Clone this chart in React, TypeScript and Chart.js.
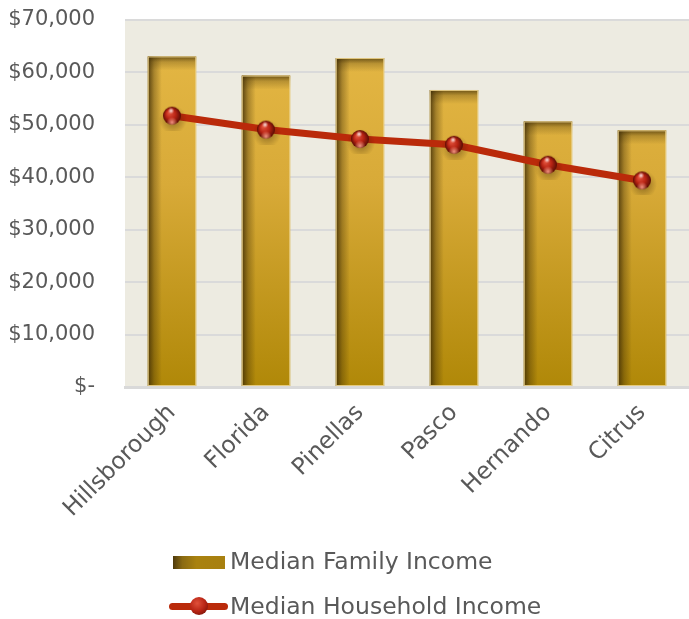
import React, { useEffect, useRef } from 'react';
import { Chart, registerables } from 'chart.js';

Chart.register(...registerables);

const categories = ['Hillsborough', 'Florida', 'Pinellas', 'Pasco', 'Hernando', 'Citrus'];
const familyIncome = [63050, 59400, 62750, 56650, 50650, 48950];
const householdIncome = [51750, 49100, 47300, 46200, 42400, 39400];
const yTickValues = [0, 10000, 20000, 30000, 40000, 50000, 60000, 70000];
const seriesNames = ['Median Family Income', 'Median Household Income'];

const FONT = '"DejaVu Sans", sans-serif';
const TEXT_COLOR = '#595959';
const LINE_COLOR = '#BA2A0A';

const fin = (...v: number[]) => v.every((n) => Number.isFinite(n));

function makeSphere(r: number): HTMLCanvasElement {
  const size = Math.ceil(r * 2 + 12);
  const c = document.createElement('canvas');
  c.width = size;
  c.height = size;
  const g = c.getContext('2d')!;
  const cx = size / 2;
  const cy = size / 2;
  const sh = g.createRadialGradient(cx + 1, cy + 4, 0, cx + 1, cy + 4, r + 5);
  sh.addColorStop(0, 'rgba(40,20,0,0.45)');
  sh.addColorStop(1, 'rgba(40,20,0,0)');
  g.fillStyle = sh;
  g.beginPath();
  g.arc(cx + 1, cy + 4, r + 5, 0, Math.PI * 2);
  g.fill();
  const body = g.createRadialGradient(cx - r * 0.3, cy - r * 0.35, r * 0.1, cx, cy, r);
  body.addColorStop(0, '#e0503a');
  body.addColorStop(0.5, '#b82414');
  body.addColorStop(1, '#5a0c04');
  g.fillStyle = body;
  g.beginPath();
  g.arc(cx, cy, r, 0, Math.PI * 2);
  g.fill();
  const refl = g.createRadialGradient(cx, cy + r * 0.75, 0, cx, cy + r * 0.75, r * 0.6);
  refl.addColorStop(0, 'rgba(255,160,140,0.9)');
  refl.addColorStop(1, 'rgba(255,160,140,0)');
  g.fillStyle = refl;
  g.beginPath();
  g.arc(cx, cy, r, 0, Math.PI * 2);
  g.fill();
  const spec = g.createRadialGradient(cx - r * 0.1, cy - r * 0.55, 0, cx - r * 0.1, cy - r * 0.55, r * 0.35);
  spec.addColorStop(0, 'rgba(255,255,255,0.85)');
  spec.addColorStop(1, 'rgba(255,255,255,0)');
  g.fillStyle = spec;
  g.beginPath();
  g.arc(cx, cy, r, 0, Math.PI * 2);
  g.fill();
  return c;
}

const bgPlugin = {
  id: 'plotBg',
  beforeDraw(chart: any) {
    const { ctx, chartArea } = chart;
    if (!chartArea) return;
    ctx.save();
    ctx.fillStyle = '#EDEBE1';
    ctx.fillRect(chartArea.left, chartArea.top, chartArea.right - chartArea.left, chartArea.bottom - chartArea.top);
    ctx.restore();
  },
};

const barShadePlugin = {
  id: 'barShade',
  afterDatasetDraw(chart: any, args: any) {
    if (args.index !== 1) return;
    const { ctx } = chart;
    const meta = chart.getDatasetMeta(1);
    ctx.save();
    meta.data.forEach((bar: any) => {
      const left = bar.x - bar.width / 2;
      const right = bar.x + bar.width / 2;
      const top = bar.y;
      const bottom = bar.base;
      if (!fin(left, right, top, bottom)) return;
      const w = right - left;
      const h = bottom - top;
      const lg = ctx.createLinearGradient(left, 0, left + 14, 0);
      lg.addColorStop(0, 'rgba(60,42,5,0.85)');
      lg.addColorStop(0.45, 'rgba(60,42,5,0.35)');
      lg.addColorStop(1, 'rgba(60,42,5,0)');
      ctx.fillStyle = lg;
      ctx.fillRect(left, top, 14, h);
      const tg = ctx.createLinearGradient(0, top, 0, top + 14);
      tg.addColorStop(0, 'rgba(60,42,5,0.7)');
      tg.addColorStop(0.4, 'rgba(60,42,5,0.25)');
      tg.addColorStop(1, 'rgba(60,42,5,0)');
      ctx.fillStyle = tg;
      ctx.fillRect(left, top, w, 14);
      ctx.strokeStyle = 'rgba(235,210,140,0.9)';
      ctx.lineWidth = 1;
      ctx.strokeRect(left + 0.5, top + 0.5, w - 1, h - 1);
    });
    ctx.restore();
  },
};

function Legend() {
  const rowText: React.CSSProperties = {
    position: 'absolute',
    left: 230,
    fontFamily: FONT,
    fontSize: 23.5,
    color: TEXT_COLOR,
    lineHeight: '24px',
    whiteSpace: 'nowrap',
  };
  return (
    <>
      <div
        style={{
          position: 'absolute',
          left: 173,
          top: 556,
          width: 52,
          height: 13,
          background: 'linear-gradient(90deg, #4e3a0c 0%, #8a6a12 18%, #a9820f 45%, #a88010 100%)',
        }}
      />
      <div style={{ ...rowText, top: 549 }}>{seriesNames[0]}</div>
      <div
        style={{
          position: 'absolute',
          left: 169,
          top: 603,
          width: 59,
          height: 7,
          borderRadius: 4,
          background: LINE_COLOR,
        }}
      />
      <div
        style={{
          position: 'absolute',
          left: 190,
          top: 597,
          width: 18,
          height: 18,
          borderRadius: 9,
          background: 'radial-gradient(circle at 40% 35%, #e0503a 0%, #b82414 50%, #5a0c04 100%)',
        }}
      />
      <div style={{ ...rowText, top: 594 }}>{seriesNames[1]}</div>
    </>
  );
}

export default function App() {
  const ref = useRef<HTMLCanvasElement>(null);
  useEffect(() => {
    document.body.style.margin = '0';
    document.documentElement.style.overflow = 'hidden';
    document.body.style.overflow = 'hidden';
    const sphere = makeSphere(9);
    const chart = new Chart(ref.current!, {
      type: 'bar',
      data: {
        labels: categories,
        datasets: [
          {
            type: 'line',
            label: seriesNames[1],
            data: householdIncome,
            borderColor: LINE_COLOR,
            borderWidth: 7,
            pointStyle: sphere as any,
            pointRadius: 9,
            tension: 0,
            order: 0,
          } as any,
          {
            type: 'bar',
            label: seriesNames[0],
            data: familyIncome,
            categoryPercentage: 1,
            barPercentage: 0.515,
            order: 1,
            backgroundColor: (ctx: any) => {
              const ch = ctx.chart;
              const area = ch.chartArea;
              if (!area || !fin(area.top, area.bottom) || area.bottom <= area.top) return '#d4a832';
              const g = ch.ctx.createLinearGradient(0, area.top, 0, area.bottom);
              g.addColorStop(0, '#e6b946');
              g.addColorStop(0.45, '#d8aa38');
              g.addColorStop(1, '#b08808');
              return g;
            },
          } as any,
        ],
      },
      options: {
        animation: false,
        responsive: false,
        layout: { autoPadding: false, padding: { left: 8, top: 20, right: -4, bottom: 0 } },
        plugins: {
          legend: { display: false },
          tooltip: { enabled: false },
        },
        scales: {
          x: {
            grid: { display: false },
            border: { display: true, color: '#d9d9d9', width: 3 },
            afterFit: (scale: any) => {
              scale.paddingLeft = 0;
              scale.paddingRight = 0;
              scale.height = 232;
            },
            ticks: {
              font: { family: FONT, size: 23.5 },
              color: TEXT_COLOR,
              minRotation: 45,
              maxRotation: 45,
              padding: 4,
            },
          },
          y: {
            min: 0,
            max: 70000,
            afterBuildTicks: (axis: any) => {
              axis.ticks = yTickValues.map((v) => ({ value: v }));
            },
            afterFit: (scale: any) => {
              scale.paddingTop = 0;
              scale.paddingBottom = 0;
              scale.paddingLeft = 0;
              scale.paddingRight = 0;
              scale.width = 117;
            },
            grid: { color: '#dadada', lineWidth: 2, drawTicks: false },
            border: { display: false },
            ticks: {
              font: { family: FONT, size: 21 },
              color: TEXT_COLOR,
              padding: 30,
              callback: (v: any) => (Number(v) === 0 ? '$-' : '$' + Number(v).toLocaleString('en-US')),
            },
          },
        },
      },
      plugins: [bgPlugin, barShadePlugin],
    });
    return () => chart.destroy();
  }, []);
  return (
    <div style={{ position: 'fixed', left: 0, top: 0, width: 689, height: 619, overflow: 'hidden', background: '#fff' }}>
      <canvas ref={ref} width={689} height={619} style={{ display: 'block' }} />
      <Legend />
    </div>
  );
}
